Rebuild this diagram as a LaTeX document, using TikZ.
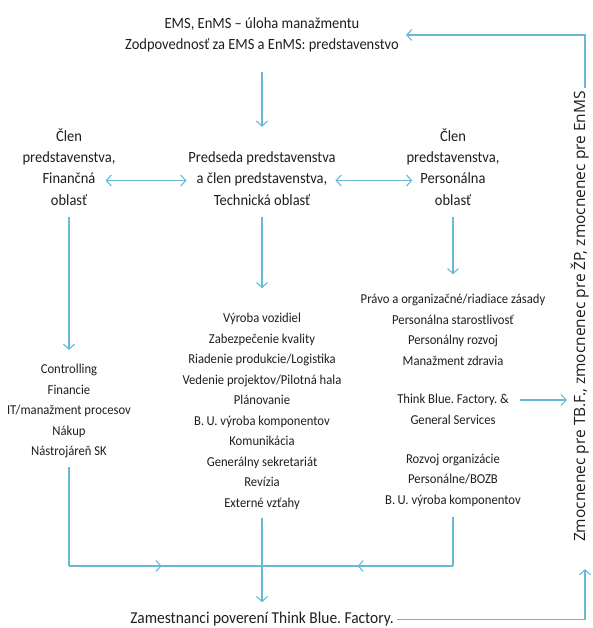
\documentclass[tikz,border=0pt]{standalone}
\usepackage{fontspec}
\setmainfont[FakeStretch=0.93]{Carlito}
\newfontfamily\rotfont{Open Sans}
\usetikzlibrary{arrows.meta,decorations.markings}
\definecolor{flow}{RGB}{104,186,212}
\definecolor{ink}{RGB}{30,30,30}
\frenchspacing

\begin{document}
\begin{tikzpicture}[x=1pt,y=-1pt,
  >={Straight Barb[length=5pt,width=11pt]},
  conn/.style={draw=flow, line width=1.1pt},
  head/.style={font=\fontsize{15.6}{20.5}\selectfont, text=ink, inner sep=0pt, align=center},
  hrow/.style={head, anchor=base, text height=10pt, text depth=3pt},
  lst/.style={font=\fontsize{13.6}{20.5}\selectfont, text=ink, inner sep=0pt, align=center},
  lrow/.style={lst, text height=9pt, text depth=2.5pt},
  midarrow/.style={postaction={decorate},
    decoration={markings, mark=at position #1 with {\arrow{>}}}},
]
\useasboundingbox (0,0) rectangle (592,628);

% management level
\node[head] (title) at (262,35)
  {EMS, EnMS – úloha manažmentu\\Zodpovednosť za EMS a EnMS: predstavenstvo};

% board members
\node[hrow] (l1) at (69,142) {Člen};
\node[hrow] (l2) at (69,163) {predstavenstva,};
\node[hrow] (l3) at (69,184) {Finančná};
\node[hrow] (l4) at (69,205) {oblasť};

\node[hrow] (m1) at (262,163) {Predseda predstavenstva};
\node[hrow] (m2) at (262,184) {a člen predstavenstva,};
\node[hrow] (m3) at (262,205) {Technická oblasť};

\node[hrow] (r1) at (453,142) {Člen};
\node[hrow] (r2) at (453,163) {predstavenstva,};
\node[hrow] (r3) at (453,184) {Personálna};
\node[hrow] (r4) at (453,205) {oblasť};

% departments
\node[lst] (leftlist) at (69,411)
  {Controlling\\Financie\\IT/manažment procesov\\Nákup\\Nástrojáreň SK};
\node[lst] (midlist) at (262,411.5)
  {Výroba vozidiel\\Zabezpečenie kvality\\Riadenie produkcie/Logistika\\
   Vedenie projektov/Pilotná hala\\Plánovanie\\B.\,U. výroba komponentov\\
   Komunikácia\\Generálny sekretariát\\Revízia\\Externé vzťahy};
\node[lst] (rightA) at (453,330)
  {Právo a organizačné/riadiace zásady\\Personálna starostlivosť\\
   Personálny rozvoj\\Manažment zdravia};
\node[lrow] (tbf1) at (453,400) {Think Blue. Factory. \&};
\node[lrow] (tbf2) at (453,421) {General Services};
\node[lst] (rightC) at (453,480)
  {Rozvoj organizácie\\Personálne/BOZB\\B.\,U. výroba komponentov};

% employees and delegates
\node[font=\fontsize{16.6}{18}\selectfont, text=ink, inner sep=0pt] (bot) at (262,619.5)
  {Zamestnanci poverení Think Blue. Factory.};
\node[font=\rotfont\fontsize{15.5}{18}\selectfont, text=ink, inner sep=0pt,
      rotate=90, anchor=base] (zm) at (585,316.5)
  {Zmocnenec pre TB.F., zmocnenec pre ŽP, zmocnenec pre EnMS};

\coordinate (j) at (262,566);

% connectors
\draw[conn,->,shorten <=20,shorten >=26] (title.south) -- (m1.north);
\draw[conn,<->,shorten <=10,shorten >=10] (l3.east) -- (m2.west);
\draw[conn,<->,shorten <=8,shorten >=8] (m2.east) -- (r3.west);

\draw[conn,->,shorten <=9,shorten >=14] (l4.south) -- (leftlist.north);
\draw[conn,->,shorten <=9,shorten >=25] (m3.south) -- (midlist.north);
\draw[conn,->,shorten <=9,shorten >=20] (r4.south) -- (rightA.north);

\draw[conn,->,shorten <=11.5,shorten >=3.5] (tbf1.east) -- (tbf1.east -| zm.north);

\draw[conn,shorten <=9] (leftlist.south) -- (leftlist.south |- j);
\draw[conn,midarrow=0.48] (leftlist.south |- j) -- (j);
\draw[conn,shorten <=10.5] (rightC.south) -- (rightC.south |- j);
\draw[conn,midarrow=0.5] (rightC.south |- j) -- (j);
\draw[conn,->,shorten <=8,shorten >=10] (midlist.south) -- (bot.north);

\draw[conn,->,shorten <=3,shorten >=27] (bot.east) -- (bot.east -| zm.base) -- (zm.base west);
\draw[conn,->,shorten <=3,shorten >=7] (zm.base east) -- (zm.base east |- title.east) -- (title.east);
\end{tikzpicture}
\end{document}
